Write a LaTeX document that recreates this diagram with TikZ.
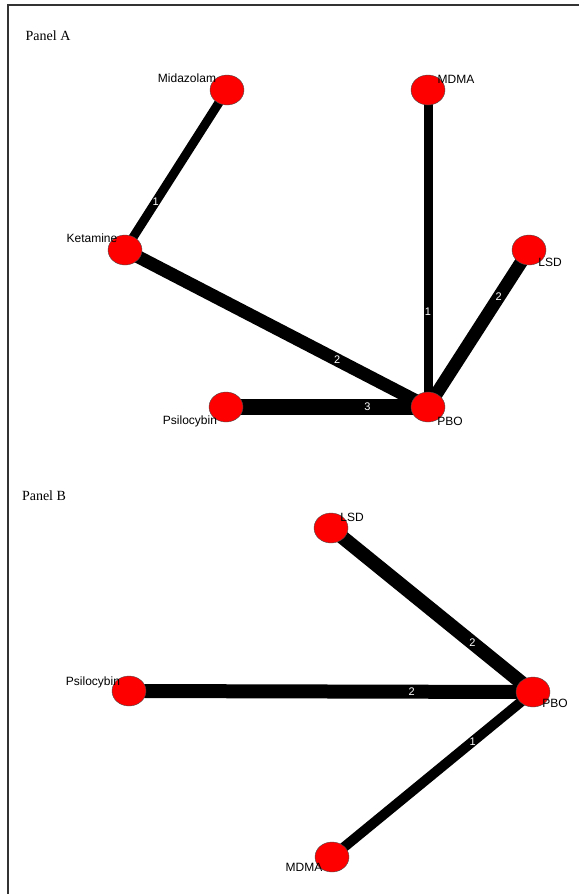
\documentclass[tikz,border=0pt]{standalone}
\usepackage{fontspec}
\setmainfont{Liberation Serif}
\setsansfont{Liberation Sans}
\usetikzlibrary{shapes,backgrounds,positioning}
\definecolor{nodered}{RGB}{255,0,0}
\tikzset{drug/.style={ellipse,draw=black!70,thin,fill=nodered,minimum width=34pt,minimum height=30pt,inner sep=0pt},
  drugname/.style={font=\sffamily\fontsize{12}{12}\selectfont,inner sep=0pt},
  trials/.style={font=\sffamily\fontsize{11}{11}\selectfont,text=white,inner sep=0pt,pos=.7},
  paneltitle/.style={font=\fontsize{14}{14}\selectfont,inner sep=0pt}}
\begin{document}
\begin{tikzpicture}[x=1pt,y=-1pt]
\useasboundingbox (0,0) rectangle (579,894);
%frame
\draw[line width=1.3pt,black!80] (8,894) -- (8,5) -- (579,5);
%panel A
\node[paneltitle] (titleA) at (48,36) {Panel A};
\node[drug] (midA) at (227,90) {}; \node[drug] (mdmaA) at (428,90) {};
\node[drug] (ketA) at (125,250) {}; \node[drug] (lsdA) at (529,250) {};
\node[drug] (psiA) at (226,407) {}; \node[drug] (pboA) at (428,407) {};
\node[drugname] (midAname) at (187,78) {Midazolam}; \node[drugname] (mdmaAname) at (456,79) {MDMA};
\node[drugname] (ketAname) at (92,238) {Ketamine}; \node[drugname] (lsdAname) at (550,262) {LSD};
\node[drugname] (psiAname) at (190,421) {Psilocybin}; \node[drugname] (pboAname) at (450,421) {PBO};
\begin{pgfonlayer}{background}
\draw[line width=9pt] (midA.center) -- node[trials] {1} (ketA.center);
\draw[line width=13pt] (ketA.center) -- node[trials] {2} (pboA.center);
\draw[line width=16pt] (psiA.center) -- node[trials] {3} (pboA.center);
\draw[line width=9pt] (mdmaA.center) -- node[trials] {1} (pboA.center);
\draw[line width=13pt] (pboA.center) -- node[trials] {2} (lsdA.center);
\end{pgfonlayer}
%panel B
\node[paneltitle] (titleB) at (44,496) {Panel B};
\node[drug] (lsdB) at (331,528) {}; \node[drug] (psiB) at (129,691) {};
\node[drug] (pboB) at (533,692) {}; \node[drug] (mdmaB) at (332,857) {};
\node[drugname] (lsdBname) at (352,517) {LSD}; \node[drugname] (psiBname) at (93,682) {Psilocybin};
\node[drugname] (pboBname) at (555,703) {PBO}; \node[drugname] (mdmaBname) at (304,867) {MDMA};
\begin{pgfonlayer}{background}
\draw[line width=14pt] (lsdB.center) -- node[trials] {2} (pboB.center);
\draw[line width=14pt] (psiB.center) -- node[trials] {2} (pboB.center);
\draw[line width=10pt] (mdmaB.center) -- node[trials] {1} (pboB.center);
\end{pgfonlayer}
\end{tikzpicture}
\end{document}
